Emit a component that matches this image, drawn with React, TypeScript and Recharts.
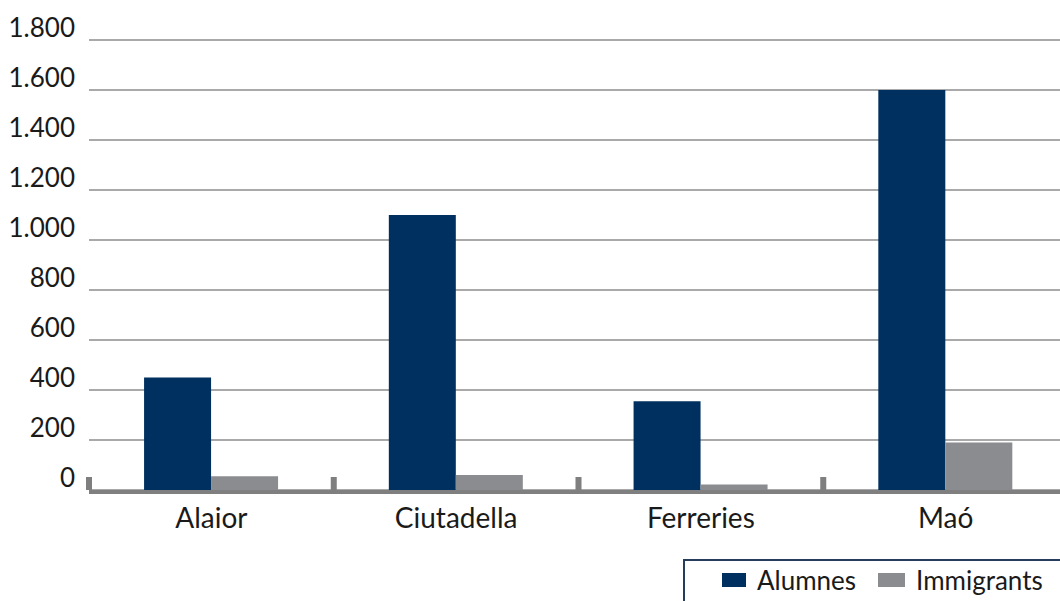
import React from "react";
import {
  Bar,
  BarChart,
  CartesianGrid,
  Legend,
  XAxis,
  YAxis,
} from "recharts";

const municipis = ["Alaior", "Ciutadella", "Ferreries", "Maó"];
const alumnes = [450, 1100, 355, 1600];
const immigrants = [55, 60, 22, 190];
const yTicks = [0, 200, 400, 600, 800, 1000, 1200, 1400, 1600, 1800];

const data = municipis.map((m, i) => ({
  municipi: m,
  alumnes: alumnes[i],
  immigrants: immigrants[i],
}));

const FONT = "Lato, 'Open Sans', sans-serif";
const BLUE = "#00305f";
const GREY = "#8b8c90";
const CHART_W = 1080;
const CHART_H = 601;
const Y_W = 89;
const M_RIGHT = 12;
const BAND = (CHART_W - Y_W - M_RIGHT) / municipis.length;

const fmt = (n: number) =>
  n >= 1000 ? `${Math.floor(n / 1000)}.${String(n % 1000).padStart(3, "0")}` : String(n);

const YTick = (props: any) => {
  const { x, y, payload } = props;
  return (
    <text
      x={x - 14}
      y={y - 3}
      textAnchor="end"
      fill="#1a1a1a"
      fontSize={26}
      fontFamily={FONT}
    >
      {fmt(payload.value)}
    </text>
  );
};

const XTick = (props: any) => {
  const { x, y, payload } = props;
  return (
    <g>
      <rect x={x - BAND / 2 - 3} y={y - 13} width={6} height={13} fill="#7f7f7f" />
      <text
        x={x}
        y={y + 38}
        textAnchor="middle"
        fill="#1a1a1a"
        fontSize={28}
        fontFamily={FONT}
      >
        {payload.value}
      </text>
    </g>
  );
};

const LegendBox = () => (
  <div
    style={{
      width: 400,
      height: 60,
      boxSizing: "border-box",
      border: "2px solid #263c5c",
      fontFamily: FONT,
      fontSize: 26,
      color: "#1a1a1a",
      display: "flex",
      alignItems: "center",
      paddingLeft: 37,
      paddingBottom: 18,
    }}
  >
    <span style={{ width: 24, height: 14, background: BLUE, display: "inline-block" }} />
    <span style={{ marginLeft: 11 }}>Alumnes</span>
    <span
      style={{ width: 27, height: 14, background: GREY, display: "inline-block", marginLeft: 22 }}
    />
    <span style={{ marginLeft: 11 }}>Immigrants</span>
  </div>
);

export default function App() {
  return (
    <div
      style={{
        position: "absolute",
        left: 0,
        top: 0,
        width: 1060,
        height: 601,
        overflow: "hidden",
        background: "#fff",
      }}
    >
      <BarChart
        width={CHART_W}
        height={CHART_H}
        data={data}
        margin={{ top: 40, right: M_RIGHT, left: 0, bottom: 51 }}
        barCategoryGap="22.5%"
        barGap={0}
      >
        <CartesianGrid vertical={false} stroke="#8c8c8c" strokeWidth={1.5} />
        <XAxis
          dataKey="municipi"
          axisLine={{ stroke: "#7f7f7f", strokeWidth: 4, transform: "translate(0,2)" }}
          tickLine={false}
          tickSize={0}
          tickMargin={0}
          height={60}
          tick={<XTick />}
          interval={0}
        />
        <YAxis
          domain={[0, 1800]}
          ticks={yTicks}
          width={Y_W}
          axisLine={false}
          tickLine={false}
          tickSize={0}
          tickMargin={0}
          tick={<YTick />}
        />
        <Legend
          layout="horizontal"
          verticalAlign="middle"
          wrapperStyle={{ left: 683, top: 559, width: 400 }}
          content={<LegendBox />}
        />
        <Bar dataKey="alumnes" name="Alumnes" fill={BLUE} isAnimationActive={false} />
        <Bar dataKey="immigrants" name="Immigrants" fill={GREY} isAnimationActive={false} />
      </BarChart>
    </div>
  );
}
